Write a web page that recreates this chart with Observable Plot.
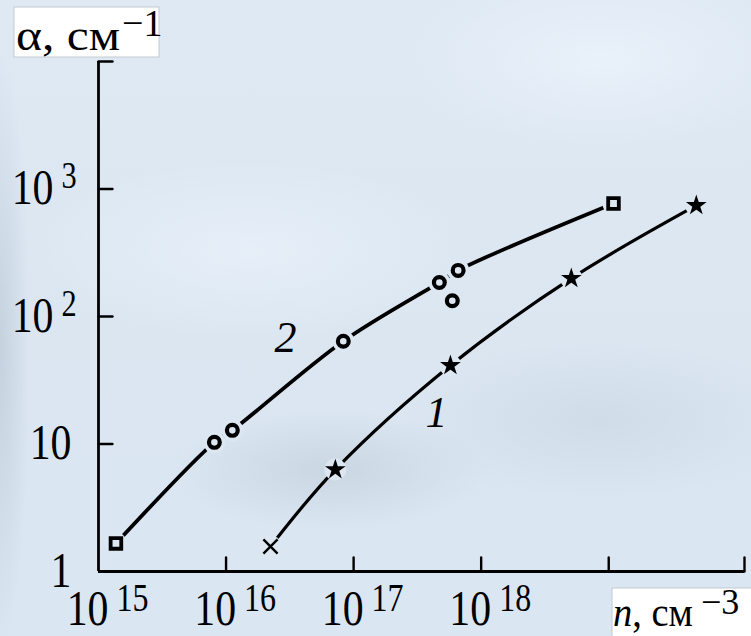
<!DOCTYPE html>
<html>
<head>
<meta charset="utf-8">
<script src="https://cdn.jsdelivr.net/npm/d3@7"></script>
<script src="https://cdn.jsdelivr.net/npm/@observablehq/plot@0.6"></script>
<style>
  html, body { margin: 0; padding: 0; }
  body {
    width: 751px; height: 636px; overflow: hidden; position: relative;
    background:
      radial-gradient(ellipse 160px 60px at 330px 470px, rgba(170,185,200,0.35), rgba(170,185,200,0) 100%),
      radial-gradient(ellipse 200px 80px at 600px 420px, rgba(175,190,205,0.25), rgba(175,190,205,0) 100%),
      radial-gradient(ellipse 220px 90px at 250px 250px, rgba(240,247,255,0.5), rgba(240,247,255,0) 100%),
      radial-gradient(ellipse 200px 90px at 600px 60px, rgba(240,247,255,0.6), rgba(240,247,255,0) 100%),
      radial-gradient(ellipse 30px 300px at 0px 350px, rgba(170,185,200,0.45), rgba(170,185,200,0) 100%),
      linear-gradient(180deg, #dfe9f4 0%, #dbe6f1 55%, #dae6f2 100%);
  }
  #chart { position: absolute; left: 0; top: 0; }
  #overlay { position: absolute; left: 0; top: 0; pointer-events: none; }
</style>
</head>
<body>
<div id="chart"></div>
<svg id="overlay" width="751" height="636" font-family="Liberation Serif, Times New Roman, serif">
  <rect x="14" y="7" width="145" height="50" fill="#ffffff" stroke="#c4cad0" stroke-width="1"></rect>
  <text x="16" y="50" font-size="44" textLength="104" lengthAdjust="spacingAndGlyphs">α, см</text>
  <text x="122" y="36" font-size="38">−1</text>
  <rect x="612" y="588" width="150" height="60" fill="#ffffff" stroke="#c4cad0" stroke-width="1"></rect>
  <text x="613" y="626" font-size="42" textLength="80" lengthAdjust="spacingAndGlyphs"><tspan font-style="italic">n</tspan>, см</text>
  <text x="701" y="614" font-size="36">−3</text>
</svg>
<script>
// ---- data ----
const curve2N     = [1.37e15, 8.1e15, 1.12e16, 8.3e16, 4.7e17, 6.6e17, 1.09e19];
const curve2Alpha = [1.66, 10.3, 12.8, 64, 185, 230, 770];
const curve2Sym   = ["square", "circle", "circle", "circle", "circle", "circle", "square"];
const extra2N     = [5.94e17];
const extra2Alpha = [133];

const curve1N     = [2.23e16, 7.19e16, 5.74e17, 5.09e18, 4.86e19];
const curve1Alpha = [1.57, 6.3, 41.3, 199, 743];
const curve1Sym   = ["times", "star", "star", "star", "star"];

const curveLabels = ["2", "1"];
const curveLabelN = [2.92e16, 4.47e17];
const curveLabelAlpha = [52.2, 13.5];

const xDomain = [1e15, 1.16e20];
const yDomain = [1, 1e4];
const xTickMarks = [1e16, 1e17, 1e18, 1e19, 1.16e20];
const yTickMarks = [10, 100, 1000, 10000];
const xLabelValues = [1e15, 1e16, 1e17, 1e18];
const xLabelExp = ["15", "16", "17", "18"];
const yLabelValues = [1, 10, 100, 1000];
const yLabelBase = ["1", "10", "10", "10"];
const yLabelExp = ["", "", "2", "3"];

// ---- tables ----
const c2 = curve2N.map((n, i) => ({n, a: curve2Alpha[i], s: curve2Sym[i]}));
const c1 = curve1N.map((n, i) => ({n, a: curve1Alpha[i], s: curve1Sym[i]}));
const ex = extra2N.map((n, i) => ({n, a: extra2Alpha[i]}));
const labs = curveLabels.map((t, i) => ({t, n: curveLabelN[i], a: curveLabelAlpha[i]}));
const xl = xLabelValues.map((v, i) => ({v, e: xLabelExp[i]}));
const yl = yLabelValues.map((v, i) => ({v, b: yLabelBase[i], e: yLabelExp[i]}));

const BG = "#dce7f2";
const FONT = "Liberation Serif, Times New Roman, serif";
const tickShape = {draw(ctx, l) { ctx.moveTo(0, 0); ctx.lineTo(0, -l); }};

const plot = Plot.plot({
  width: 751, height: 636,
  marginLeft: 98, marginRight: 7, marginTop: 61, marginBottom: 65,
  style: {background: "transparent", overflow: "visible"},
  x: {type: "log", domain: xDomain, axis: null},
  y: {type: "log", domain: yDomain, axis: null},
  marks: [
    Plot.ruleY([1], {stroke: "#000", strokeWidth: 2.8}),
    Plot.ruleX([1e15], {stroke: "#000", strokeWidth: 2.8}),
    Plot.vector(xTickMarks, {x: d => d, y: 1, length: 14, rotate: 0, anchor: "start", shape: tickShape, stroke: "#000", strokeWidth: 2.4}),
    Plot.vector(yTickMarks, {x: 1e15, y: d => d, length: 14, rotate: 90, anchor: "start", shape: tickShape, stroke: "#000", strokeWidth: 2.4}),
    // x tick labels
    Plot.text(xl, {x: "v", y: 1, text: () => "10", textAnchor: "end", lineAnchor: "bottom", dx: 10, dy: 53, fontSize: 51, fontFamily: FONT, fill: "#000", className: "cond"}),
    Plot.text(xl, {x: "v", y: 1, text: "e", textAnchor: "start", lineAnchor: "bottom", dx: 18, dy: 39, fontSize: 39, fontFamily: FONT, fill: "#000", className: "cond"}),
    // y tick labels
    Plot.text(yl.filter(d => d.e === ""), {x: 1e15, y: "v", text: "b", textAnchor: "end", lineAnchor: "bottom", dx: -27, dy: 15, fontSize: 51, fontFamily: FONT, fill: "#000", className: "cond"}),
    Plot.text(yl.filter(d => d.e !== ""), {x: 1e15, y: "v", text: "b", textAnchor: "end", lineAnchor: "bottom", dx: -45, dy: 15, fontSize: 51, fontFamily: FONT, fill: "#000", className: "cond"}),
    Plot.text(yl.filter(d => d.e !== ""), {x: 1e15, y: "v", text: "e", textAnchor: "start", lineAnchor: "bottom", dx: -37, dy: -1, fontSize: 37, fontFamily: FONT, fill: "#000", className: "cond"}),
    // curves
    Plot.line(c2, {x: "n", y: "a", curve: "catmull-rom", stroke: "#000", strokeWidth: 3.8, strokeLinecap: "round"}),
    Plot.line(c1, {x: "n", y: "a", curve: "catmull-rom", stroke: "#000", strokeWidth: 3.2, strokeLinecap: "round"}),
    // gaps around markers
    Plot.dot(c2, {x: "n", y: "a", r: 11, fill: BG, stroke: null}),
    Plot.dot(c1, {x: "n", y: "a", r: 11, fill: BG, stroke: null}),
    // markers
    Plot.dot(c2.filter(d => d.s === "square"), {x: "n", y: "a", symbol: "square", r: 6, fill: "none", stroke: "#000", strokeWidth: 3.8}),
    Plot.dot(c2.filter(d => d.s === "circle"), {x: "n", y: "a", symbol: "circle", r: 5.4, fill: "none", stroke: "#000", strokeWidth: 4.2}),
    Plot.dot(ex, {x: "n", y: "a", symbol: "circle", r: 5.4, fill: "none", stroke: "#000", strokeWidth: 4.2}),
    Plot.dot(c1.filter(d => d.s === "times"), {x: "n", y: "a", symbol: "times", r: 6.5, stroke: "#000", strokeWidth: 2.4}),
    Plot.dot(c1.filter(d => d.s === "star"), {x: "n", y: "a", symbol: "star", r: 4.6, fill: "#000", stroke: "#000", strokeWidth: 2}),
    // curve labels
    Plot.text(labs, {x: "n", y: "a", text: "t", textAnchor: "middle", lineAnchor: "bottom", fontSize: 44, fontStyle: "italic", fontFamily: FONT, fill: "#000"})
  ]
});

document.getElementById("chart").appendChild(plot);

// horizontally condense tick label glyphs (as in the reference typeface)
plot.querySelectorAll("g.cond text").forEach(t => {
  const tr = t.getAttribute("transform");
  if (tr && tr.includes("translate")) {
    t.setAttribute("transform", tr + " scale(0.82,1)");
  } else {
    const x = t.getAttribute("x") || 0;
    t.removeAttribute("x");
    t.setAttribute("transform", `translate(${x},0) scale(0.82,1)`);
  }
});
</script>
</body>
</html>
